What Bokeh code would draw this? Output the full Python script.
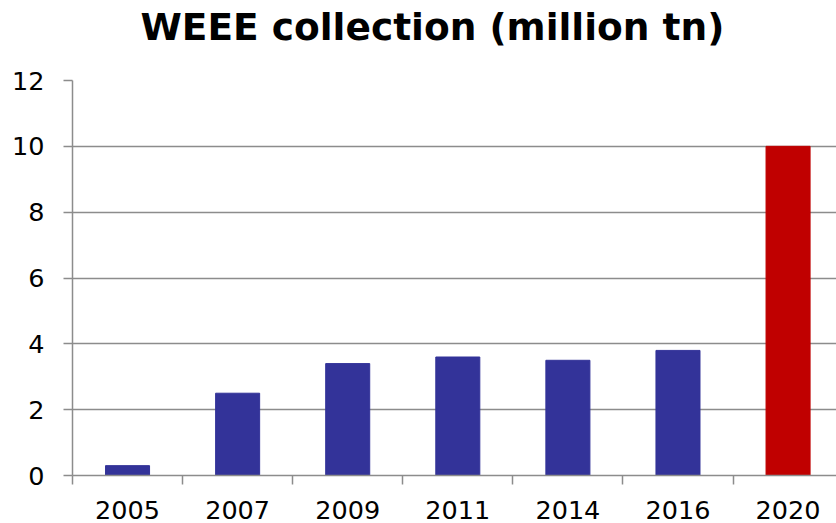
import numpy as np
from bokeh.plotting import figure
from bokeh.models import ColumnDataSource, FixedTicker, Range1d, Title
from bokeh.embed import file_html
from bokeh.resources import INLINE

title_text = "WEEE collection (million tn)"
years = ["2005", "2007", "2009", "2011", "2014", "2016", "2020"]
values = [0.3, 2.5, 3.4, 3.6, 3.5, 3.8, 10.0]
colors = ["#333399", "#333399", "#333399", "#333399", "#333399", "#333399", "#C00000"]
y_ticks = [0, 2, 4, 6, 8, 10, 12]

x = np.arange(len(years)) + 0.5
src = ColumnDataSource(dict(x=x, top=values, color=colors, year=years))

p = figure(width=836, height=523, output_backend="svg", toolbar_location=None,
           x_range=Range1d(0, 6.94), y_range=Range1d(0, 12),
           min_border_left=72, min_border_right=0, min_border_top=80, min_border_bottom=48)
p.title.visible = False

# spacer (closest to the frame), then the real title above it
spacer = Title(text=".", text_font_size="4px", standoff=25.5, text_color="white")
p.add_layout(spacer, "above")
t = Title(text=title_text, text_font="DejaVu Sans",
          text_font_size="37.5px", text_font_style="bold", text_color="black",
          align="left", offset=68, standoff=2)
p.add_layout(t, "above")

p.vbar(x="x", top="top", width=0.4, bottom=0, color="color", source=src)

GRAY = "#8c8c8c"
p.outline_line_color = None
p.xgrid.visible = False
p.ygrid.grid_line_color = GRAY
p.ygrid.grid_line_width = 1.5
p.ygrid.ticker = FixedTicker(ticks=y_ticks)

ya = p.yaxis[0]
ya.ticker = FixedTicker(ticks=y_ticks)
ya.axis_line_color = GRAY
ya.axis_line_width = 1.5
ya.major_tick_line_color = GRAY
ya.major_tick_line_width = 1.5
ya.major_tick_out = 9
ya.major_tick_in = 0
ya.minor_tick_line_color = None
ya.major_label_text_font = "DejaVu Sans"
ya.major_label_text_font_size = "25.5px"
ya.major_label_text_color = "black"
ya.major_label_standoff = 19

xa = p.xaxis[0]
xa.ticker = FixedTicker(ticks=list(x), minor_ticks=list(range(len(years) + 1)))
xa.major_label_overrides = {float(xi): y for xi, y in zip(x, years)}
xa.axis_line_color = GRAY
xa.axis_line_width = 1.5
xa.major_tick_line_color = None
xa.major_tick_out = 0
xa.major_tick_in = 0
xa.minor_tick_line_color = GRAY
xa.minor_tick_line_width = 1.5
xa.minor_tick_out = 9
xa.minor_tick_in = 0
xa.major_label_text_font = "DejaVu Sans"
xa.major_label_text_font_size = "25.5px"
xa.major_label_text_color = "black"
xa.major_label_standoff = 16

open("out.html", "w").write(file_html(p, INLINE))
